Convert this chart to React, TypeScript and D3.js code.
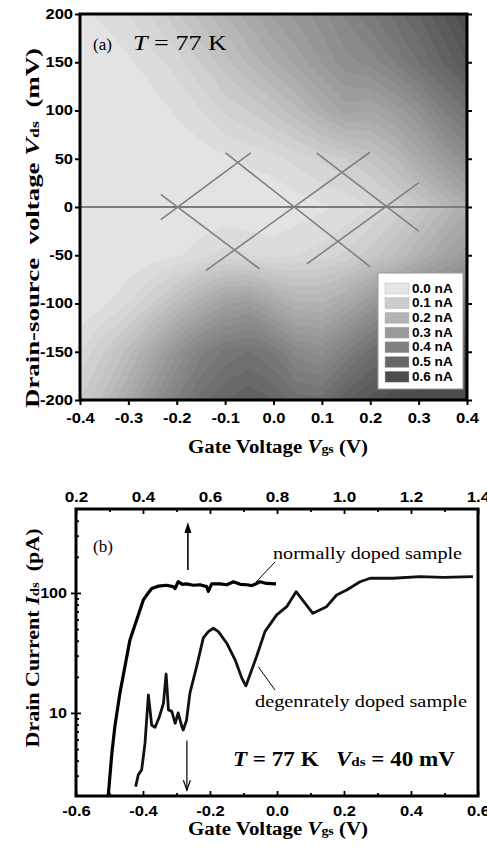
import React, { useEffect, useRef } from "react";
import * as d3 from "d3";

const W = 487;
const H = 850;

// ---- panel (a): current map, Vds vs Vgs ----
const gridVgs = [-0.4, -0.35, -0.3, -0.25, -0.2, -0.15, -0.1, -0.05, 0, 0.05, 0.1, 0.15, 0.2, 0.25, 0.3, 0.35, 0.4];
const gridVds = [200, 150, 100, 50, 0, -50, -100, -150, -200];
// current in nA, one row per gridVds value (top to bottom)
const currentRows = [
  [0.02, 0.03, 0.05, 0.08, 0.12, 0.16, 0.2, 0.24, 0.28, 0.31, 0.34, 0.38, 0.42, 0.46, 0.5, 0.55, 0.6],
  [0.0, 0.01, 0.02, 0.04, 0.06, 0.1, 0.14, 0.18, 0.22, 0.26, 0.3, 0.34, 0.36, 0.4, 0.45, 0.5, 0.55],
  [0.0, 0.0, 0.0, 0.01, 0.03, 0.05, 0.08, 0.1, 0.13, 0.17, 0.22, 0.26, 0.25, 0.28, 0.33, 0.4, 0.45],
  [0.0, 0.0, 0.0, 0.0, 0.0, 0.01, 0.02, 0.03, 0.04, 0.06, 0.08, 0.1, 0.13, 0.17, 0.23, 0.29, 0.34],
  [0.0, 0.0, 0.0, 0.0, 0.0, 0.0, 0.0, 0.0, 0.0, 0.01, 0.02, 0.03, 0.05, 0.08, 0.12, 0.17, 0.22],
  [0.0, 0.0, 0.0, 0.01, 0.02, 0.04, 0.06, 0.05, 0.04, 0.05, 0.06, 0.08, 0.11, 0.15, 0.2, 0.25, 0.29],
  [0.0, 0.02, 0.05, 0.1, 0.16, 0.22, 0.27, 0.29, 0.24, 0.2, 0.2, 0.24, 0.3, 0.35, 0.39, 0.42, 0.44],
  [0.05, 0.1, 0.16, 0.24, 0.32, 0.39, 0.43, 0.45, 0.42, 0.36, 0.34, 0.4, 0.46, 0.5, 0.53, 0.55, 0.57],
  [0.1, 0.16, 0.24, 0.32, 0.4, 0.46, 0.5, 0.52, 0.5, 0.46, 0.46, 0.52, 0.56, 0.6, 0.62, 0.62, 0.62],
];
const legendValues = [0, 0.1, 0.2, 0.3, 0.4, 0.5, 0.6];
const legendLabels = ["0.0 nA", "0.1 nA", "0.2 nA", "0.3 nA", "0.4 nA", "0.5 nA", "0.6 nA"];
const vgsTicksA = [-0.4, -0.3, -0.2, -0.1, 0, 0.1, 0.2, 0.3, 0.4];
const vdsTicksA = [-200, -150, -100, -50, 0, 50, 100, 150, 200];
// Coulomb diamond guide lines: [vgs1, vds1, vgs2, vds2]
const diamondLines = [
  [-0.233, -13, -0.047, 56],
  [-0.233, 13, -0.029, -64],
  [-0.099, 56, 0.2, -62],
  [-0.14, -66, 0.2, 57],
  [0.089, 56, 0.3, -25],
  [0.069, -59, 0.3, 25],
];

// ---- panel (b): drain current vs gate voltage ----
const vgsTicksB = [-0.6, -0.4, -0.2, 0, 0.2, 0.4, 0.6];
const vgsMinorB = [-0.5, -0.3, -0.1, 0.1, 0.3, 0.5];
const topTicksB = [0.2, 0.4, 0.6, 0.8, 1.0, 1.2, 1.4];
const topMinorB = [0.3, 0.5, 0.7, 0.9, 1.1, 1.3];
const idsTicksB = [10, 100];
const idsMinorB = [3, 4, 5, 6, 7, 8, 9, 20, 30, 40, 50, 60, 70, 80, 90, 200, 300, 400];
// normally doped sample (top axis)
const normalVgs = [0.296, 0.307, 0.316, 0.331, 0.346, 0.361, 0.381, 0.401, 0.411, 0.426, 0.446, 0.47, 0.49, 0.496, 0.505, 0.518, 0.53, 0.55, 0.57, 0.59, 0.595, 0.605, 0.63, 0.65, 0.67, 0.69, 0.71, 0.725, 0.739, 0.749, 0.769, 0.797];
const normalIds = [2.0, 4.6, 7.7, 14.6, 24.3, 40.6, 59.6, 87.5, 96, 109, 114, 116, 113, 109, 124, 118, 119, 116, 117, 113, 103, 119, 119, 117, 124, 118, 117, 115, 120, 124, 120, 119];
// degenerately doped sample (bottom axis)
const degenVgs = [-0.422, -0.414, -0.404, -0.394, -0.384, -0.374, -0.364, -0.351, -0.339, -0.331, -0.324, -0.314, -0.304, -0.295, -0.284, -0.28, -0.27, -0.26, -0.24, -0.22, -0.205, -0.19, -0.175, -0.15, -0.125, -0.105, -0.093, -0.081, -0.061, -0.036, -0.001, 0.029, 0.057, 0.107, 0.148, 0.178, 0.208, 0.248, 0.278, 0.346, 0.427, 0.496, 0.585];
const degenIds = [2.43, 3.05, 3.35, 5.6, 14.1, 7.9, 7.6, 9.3, 12.0, 21.1, 10.6, 10.3, 8.2, 10.0, 7.7, 7.2, 8.7, 14.6, 24.3, 42.2, 47.6, 50.8, 47.6, 38.1, 27.7, 19.5, 16.8, 20.7, 29.5, 47.6, 65.6, 76.9, 102.5, 67.7, 76.9, 96.2, 105.9, 124, 132.6, 132.6, 136.7, 135, 136.7];

const SANS = "'Liberation Sans', Arial, sans-serif";
const SERIF = "'Liberation Serif', 'Times New Roman', serif";

// widen text glyphs like the source figure
function stretch(sel: any, factor: number) {
  sel.each(function (this: SVGTextElement) {
    const len = this.getComputedTextLength();
    d3.select(this).attr("textLength", len * factor).attr("lengthAdjust", "spacingAndGlyphs");
  });
}

export default function App() {
  const ref = useRef<SVGSVGElement>(null);

  useEffect(() => {
    const svg = d3.select(ref.current);
    svg.selectAll("*").remove();
    const defs = svg.append("defs");

    // ================= panel (a) =================
    const xA = d3.scaleLinear().domain([-0.4, 0.4]).range([80, 467]);
    const yA = d3.scaleLinear().domain([-200, 200]).range([400, 14]);
    defs.append("clipPath").attr("id", "clipA").append("rect")
      .attr("x", 80).attr("y", 14).attr("width", 387).attr("height", 386);

    const nx = gridVgs.length;
    const ny = gridVds.length;
    const colPos = d3.scaleLinear().domain([0.5, nx - 0.5]).range([xA(gridVgs[0]), xA(gridVgs[nx - 1])]);
    const rowPos = d3.scaleLinear().domain([0.5, ny - 0.5]).range([yA(gridVds[0]), yA(gridVds[ny - 1])]);
    const proj = d3.geoTransform({
      point(x: number, y: number) {
        this.stream.point(colPos(x), rowPos(y));
      },
    });
    const path = d3.geoPath(proj);
    const gray = d3.scaleLinear<string>().domain([0, 0.6]).range(["#e6e6e6", "#4c4c4c"]).clamp(true);
    const thresholds = d3.range(0, 0.625, 0.025);
    const contours = d3.contours().size([nx, ny]).thresholds(thresholds)(currentRows.flat());

    const gA = svg.append("g");
    gA.append("g").attr("clip-path", "url(#clipA)")
      .selectAll("path").data(contours).join("path")
      .attr("d", (d: any) => path(d))
      .attr("fill", (d: any) => gray(d.value + 0.0125))
      .attr("stroke", (d: any) => gray(d.value + 0.0125))
      .attr("stroke-width", 0.6);

    // guide lines
    gA.append("line")
      .attr("x1", xA(-0.4)).attr("x2", xA(0.4)).attr("y1", yA(0)).attr("y2", yA(0))
      .attr("stroke", "#7c7c7c").attr("stroke-width", 2.2);
    gA.append("g").selectAll("line").data(diamondLines).join("line")
      .attr("x1", (d) => xA(d[0])).attr("y1", (d) => yA(d[1]))
      .attr("x2", (d) => xA(d[2])).attr("y2", (d) => yA(d[3]))
      .attr("stroke", "#808080").attr("stroke-width", 1.6);

    // legend
    const lg = gA.append("g").attr("transform", "translate(378,273)");
    lg.append("rect").attr("width", 85).attr("height", 116)
      .attr("fill", "#fff").attr("stroke", "#9a9a9a").attr("stroke-width", 1);
    legendValues.forEach((v, i) => {
      lg.append("rect").attr("x", 7).attr("y", 10 + i * 14.7).attr("width", 24).attr("height", 11)
        .attr("fill", gray(v)).attr("stroke", "#bbb").attr("stroke-width", 0.5);
      lg.append("text").attr("x", 34).attr("y", 19.5 + i * 14.7)
        .attr("font-family", SANS).attr("font-weight", "bold").attr("font-size", 12)
        .text(legendLabels[i]);
    });
    stretch(lg.selectAll("text"), 1.13);

    // axes
    const axLA = gA.append("g").attr("transform", "translate(80,0)")
      .call(d3.axisLeft(yA).tickValues(vdsTicksA).tickSize(5).tickSizeOuter(0).tickPadding(2).tickFormat((d: any) => String(d)));
    const axBA = gA.append("g").attr("transform", "translate(0,400)")
      .call(d3.axisBottom(xA).tickValues(vgsTicksA).tickSize(5).tickSizeOuter(0).tickPadding(8).tickFormat((d: any) => (+d).toFixed(1)));
    const axRA = gA.append("g").attr("transform", "translate(467,0)")
      .call(d3.axisRight(yA).tickValues(vdsTicksA).tickSize(5).tickSizeOuter(0).tickFormat(() => ""));
    [axLA, axBA, axRA].forEach((ax) => {
      ax.select(".domain").remove();
      ax.selectAll("line").attr("stroke", "#000").attr("stroke-width", 2);
      ax.selectAll("text").attr("font-family", SANS).attr("font-weight", "bold").attr("font-size", 14).attr("fill", "#000");
    });
    stretch(axLA.selectAll("text"), 1.18);
    stretch(axBA.selectAll("text"), 1.18);

    gA.append("rect").attr("x", 80).attr("y", 14).attr("width", 387).attr("height", 386)
      .attr("fill", "none").attr("stroke", "#000").attr("stroke-width", 3);

    gA.append("text").attr("x", 93).attr("y", 50).attr("font-family", SERIF).attr("font-size", 17).text("(a)");
    const tA = gA.append("text").attr("x", 133).attr("y", 50).attr("font-family", SERIF).attr("font-size", 21);
    tA.append("tspan").attr("font-style", "italic").text("T");
    tA.append("tspan").text(" = 77 K");
    tA.attr("textLength", 94).attr("lengthAdjust", "spacingAndGlyphs");

    const xtA = gA.append("text").attr("x", 278).attr("y", 453).attr("text-anchor", "middle")
      .attr("font-family", SERIF).attr("font-weight", "bold").attr("font-size", 18);
    xtA.append("tspan").text("Gate Voltage ");
    xtA.append("tspan").attr("font-style", "italic").text("V");
    xtA.append("tspan").attr("font-size", 12).text("gs");
    xtA.append("tspan").text(" (V)");
    xtA.attr("textLength", 180).attr("lengthAdjust", "spacingAndGlyphs");

    const ytA = gA.append("text").attr("transform", "translate(38.5,228) rotate(-90)").attr("text-anchor", "middle")
      .attr("font-family", SERIF).attr("font-weight", "bold").attr("font-size", 18).style("white-space", "pre");
    ytA.append("tspan").text("Drain-source  voltage ");
    ytA.append("tspan").attr("font-style", "italic").text("V");
    ytA.append("tspan").attr("font-size", 12).text("ds");
    ytA.append("tspan").text("  (mV)");
    ytA.attr("textLength", 360).attr("lengthAdjust", "spacingAndGlyphs");

    // ================= panel (b) =================
    const xB = d3.scaleLinear().domain([-0.6, 0.6]).range([76, 478]);
    const xT = d3.scaleLinear().domain([0.2, 1.4]).range([76, 478]);
    const yB = d3.scaleLog().domain([2.03, 501]).range([796, 509]);
    defs.append("clipPath").attr("id", "clipB").append("rect")
      .attr("x", 76).attr("y", 509).attr("width", 402).attr("height", 287);

    const gB = svg.append("g");

    const axBB = gB.append("g").attr("transform", "translate(0,796)")
      .call(d3.axisBottom(xB).tickValues(vgsTicksB).tickSize(-5).tickSizeOuter(0).tickPadding(10).tickFormat((d: any) => (+d).toFixed(1)));
    const axBBm = gB.append("g").attr("transform", "translate(0,796)")
      .call(d3.axisBottom(xB).tickValues(vgsMinorB).tickSize(-3).tickSizeOuter(0).tickFormat(() => ""));
    const axTB = gB.append("g").attr("transform", "translate(0,509)")
      .call(d3.axisTop(xT).tickValues(topTicksB).tickSize(-5).tickSizeOuter(0).tickPadding(7).tickFormat((d: any) => (+d).toFixed(1)));
    const axTBm = gB.append("g").attr("transform", "translate(0,509)")
      .call(d3.axisTop(xT).tickValues(topMinorB).tickSize(-3).tickSizeOuter(0).tickFormat(() => ""));
    const axLB = gB.append("g").attr("transform", "translate(76,0)")
      .call(d3.axisLeft(yB).tickValues(idsTicksB).tickSize(5).tickSizeOuter(0).tickPadding(4).tickFormat((d: any) => String(d)));
    const axLBin = gB.append("g").attr("transform", "translate(76,0)")
      .call(d3.axisLeft(yB).tickValues(idsTicksB).tickSize(-5).tickSizeOuter(0).tickFormat(() => ""));
    const axLBm = gB.append("g").attr("transform", "translate(76,0)")
      .call(d3.axisLeft(yB).tickValues(idsMinorB).tickSize(-3).tickSizeOuter(0).tickFormat(() => ""));
    [axBB, axBBm, axTB, axTBm, axLB, axLBin, axLBm].forEach((ax) => {
      ax.select(".domain").remove();
      ax.selectAll("line").attr("stroke", "#000").attr("stroke-width", 1.8);
      ax.selectAll("text").attr("font-family", SANS).attr("font-weight", "bold").attr("font-size", 14).attr("fill", "#000");
    });
    stretch(axBB.selectAll("text"), 1.18);
    stretch(axTB.selectAll("text"), 1.22);
    stretch(axLB.selectAll("text"), 1.15);

    const curves = gB.append("g").attr("clip-path", "url(#clipB)");
    const lineT = d3.line<number>().x((d, i) => xT(normalVgs[i])).y((d) => yB(d));
    const lineB = d3.line<number>().x((d, i) => xB(degenVgs[i])).y((d) => yB(d));
    curves.append("path").attr("d", lineT(normalIds)).attr("fill", "none")
      .attr("stroke", "#000").attr("stroke-width", 3.2).attr("stroke-linejoin", "round");
    curves.append("path").attr("d", lineB(degenIds)).attr("fill", "none")
      .attr("stroke", "#111").attr("stroke-width", 2.8).attr("stroke-linejoin", "round");

    gB.append("rect").attr("x", 76).attr("y", 509).attr("width", 402).attr("height", 287)
      .attr("fill", "none").attr("stroke", "#000").attr("stroke-width", 3);

    // arrows
    const ax1 = xT(0.534);
    gB.append("line").attr("x1", ax1).attr("x2", ax1).attr("y1", yB(155)).attr("y2", yB(360))
      .attr("stroke", "#000").attr("stroke-width", 1.6);
    gB.append("path")
      .attr("d", `M${ax1},${yB(390)} L${ax1 - 3.5},${yB(390) + 11} L${ax1 + 3.5},${yB(390) + 11} Z`)
      .attr("fill", "#000");
    const ax2 = xB(-0.269);
    gB.append("line").attr("x1", ax2).attr("x2", ax2).attr("y1", yB(5.9)).attr("y2", yB(2.27))
      .attr("stroke", "#000").attr("stroke-width", 1.2);
    gB.append("path")
      .attr("d", `M${ax2 - 3.5},${yB(2.27) - 10} L${ax2},${yB(2.27)} L${ax2 + 3.5},${yB(2.27) - 10}`)
      .attr("fill", "none").attr("stroke", "#000").attr("stroke-width", 1.2);

    // leader lines
    gB.append("line").attr("x1", xT(0.794)).attr("y1", yB(181)).attr("x2", xT(0.737)).attr("y2", yB(123))
      .attr("stroke", "#000").attr("stroke-width", 1);
    gB.append("line").attr("x1", xB(-0.056)).attr("y1", yB(24.3)).attr("x2", xB(-0.006)).attr("y2", yB(15.5))
      .attr("stroke", "#000").attr("stroke-width", 1);

    gB.append("text").attr("x", 93).attr("y", 552).attr("font-family", SERIF).attr("font-size", 17).text("(b)");
    gB.append("text").attr("x", 273).attr("y", 559).attr("font-family", SERIF).attr("font-size", 17)
      .attr("textLength", 189).attr("lengthAdjust", "spacingAndGlyphs").text("normally doped sample");
    gB.append("text").attr("x", 255).attr("y", 707).attr("font-family", SERIF).attr("font-size", 17)
      .attr("textLength", 212).attr("lengthAdjust", "spacingAndGlyphs").text("degenrately doped sample");

    const tB = gB.append("text").attr("x", 233).attr("y", 766).style("white-space", "pre")
      .attr("font-family", SERIF).attr("font-weight", "bold").attr("font-size", 20);
    tB.append("tspan").attr("font-style", "italic").text("T");
    tB.append("tspan").text(" = 77 K   ");
    tB.append("tspan").attr("font-style", "italic").text("V");
    tB.append("tspan").attr("font-size", 13).text("ds");
    tB.append("tspan").text(" = 40 mV");
    tB.attr("textLength", 222).attr("lengthAdjust", "spacingAndGlyphs");

    const xtB = gB.append("text").attr("x", 278).attr("y", 835).attr("text-anchor", "middle")
      .attr("font-family", SERIF).attr("font-weight", "bold").attr("font-size", 18);
    xtB.append("tspan").text("Gate Voltage ");
    xtB.append("tspan").attr("font-style", "italic").text("V");
    xtB.append("tspan").attr("font-size", 12).text("gs");
    xtB.append("tspan").text(" (V)");
    xtB.attr("textLength", 180).attr("lengthAdjust", "spacingAndGlyphs");

    const ytB = gB.append("text").attr("transform", "translate(38.5,638) rotate(-90)").attr("text-anchor", "middle")
      .attr("font-family", SERIF).attr("font-weight", "bold").attr("font-size", 18).style("white-space", "pre");
    ytB.append("tspan").text("Drain Current ");
    ytB.append("tspan").attr("font-style", "italic").text("I");
    ytB.append("tspan").attr("font-size", 12).text("ds");
    ytB.append("tspan").text("  (pA)");
    ytB.attr("textLength", 219).attr("lengthAdjust", "spacingAndGlyphs");
  }, []);

  return (
    <svg
      ref={ref}
      width={W}
      height={H}
      style={{ position: "absolute", left: 0, top: 0, background: "#fff" }}
    />
  );
}
